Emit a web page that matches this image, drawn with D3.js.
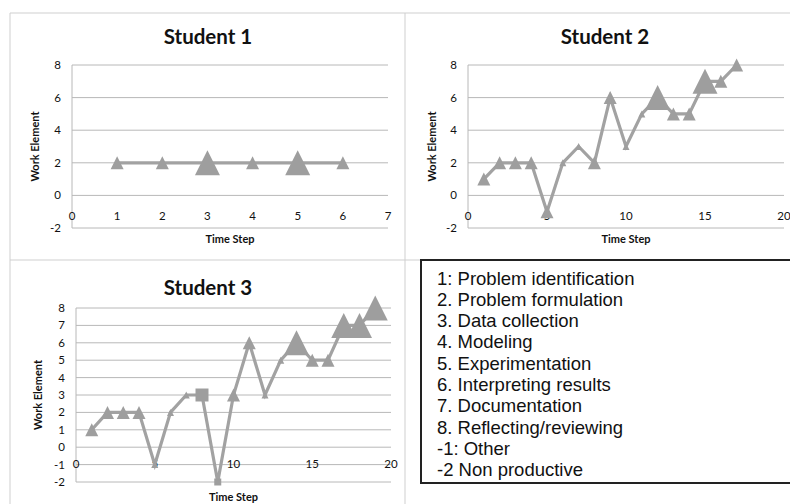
<!DOCTYPE html>
<html>
<head>
<meta charset="utf-8">
<script src="https://cdn.jsdelivr.net/npm/d3@7"></script>
<style>
    body { margin: 0; background: #fff; }
    svg { display: block; }
    .tick-label { font-family: Lato, "Open Sans", sans-serif; font-size: 11.5px; fill: #111; }
    .axis-title { font-family: Lato, "Open Sans", sans-serif; font-size: 11px; font-weight: bold; fill: #111; }
    .chart-title { font-family: Lato, "Open Sans", sans-serif; font-size: 20.5px; font-weight: bold; fill: #111; }
    .legend-text { font-family: "Liberation Sans", Arial, sans-serif; font-size: 18.5px; fill: #111; }
</style>
</head>
<body>
<div id="chart"></div>
<script>
// data: time step, work element, marker size (1 small, 2 normal, 3 big)
const s1Steps = [1, 2, 3, 4, 5, 6];
const s1Values = [2, 2, 2, 2, 2, 2];
const s1Sizes = [2, 2, 3, 2, 3, 2];
const s1Shapes = ["t", "t", "t", "t", "t", "t"];

const s2Steps = [1, 2, 3, 4, 5, 6, 7, 8, 9, 10, 11, 12, 13, 14, 15, 16, 17];
const s2Values = [1, 2, 2, 2, -1, 2, 3, 2, 6, 3, 5, 6, 5, 5, 7, 7, 8];
const s2Sizes = [2, 2, 2, 2, 2, 1, 1, 2, 2, 1, 1, 3, 2, 2, 3, 2, 2];
const s2Shapes = ["t", "t", "t", "t", "t", "t", "t", "t", "t", "t", "t", "t", "t", "t", "t", "t", "t"];

const s3Steps = [1, 2, 3, 4, 5, 6, 7, 8, 9, 10, 11, 12, 13, 14, 15, 16, 17, 18, 19];
const s3Values = [1, 2, 2, 2, -1, 2, 3, 3, -2, 3, 6, 3, 5, 6, 5, 5, 7, 7, 8];
const s3Sizes = [2, 2, 2, 2, 1, 1, 1, 2, 1, 2, 2, 1, 1, 3, 2, 2, 3, 3, 3];
const s3Shapes = ["t", "t", "t", "t", "t", "t", "t", "s", "s", "t", "t", "t", "t", "t", "t", "t", "t", "t", "t"];

const yTicksWide = [-2, 0, 2, 4, 6, 8];
const yTicksFine = [-2, -1, 0, 1, 2, 3, 4, 5, 6, 7, 8];
const xTicks1 = [0, 1, 2, 3, 4, 5, 6, 7];
const xTicks23 = [0, 5, 10, 15, 20];

const legendLabels = [
    "1: Problem identification",
    "2. Problem formulation",
    "3. Data collection",
    "4. Modeling",
    "5. Experimentation",
    "6. Interpreting results",
    "7. Documentation",
    "8. Reflecting/reviewing",
    "-1: Other",
    "-2 Non productive"
];

const width = 790, height = 504;
const grey = "#a2a2a2";
const frameColor = "#cfcfcf";

let svg = d3.select("#chart").append("svg")
    .attr("width", width)
    .attr("height", height);

// panel frames
let frames = [
    [10, 13, 790, 13],
    [10, 13, 10, 504],
    [10, 260, 421, 260],
    [405, 13, 405, 504]
];
svg.selectAll("line.frame").data(frames).enter().append("line")
    .attr("class", "frame")
    .attr("x1", d => d[0]).attr("y1", d => d[1])
    .attr("x2", d => d[2]).attr("y2", d => d[3])
    .attr("stroke", frameColor)
    .attr("stroke-width", 1);

// marker size in px
let sizeScale = d3.scaleOrdinal().domain([1, 2, 3]).range([7, 13, 25]);

// triangle with bbox centred on the point
const triangle = {
    draw(context, size) {
        let w = Math.sqrt(size);
        context.moveTo(0, -w / 2);
        context.lineTo(w / 2, w / 2);
        context.lineTo(-w / 2, w / 2);
        context.closePath();
    }
};

function drawPanel(cfg) {
    let x = d3.scaleLinear().domain(cfg.xDomain).range(cfg.xRange);
    let y = d3.scaleLinear().domain([-2, 8]).range(cfg.yRange);
    let g = svg.append("g");

    // gridlines
    g.selectAll("line.grid").data(cfg.yTicks).enter().append("line")
        .attr("x1", cfg.xRange[0]).attr("x2", cfg.xRange[1])
        .attr("y1", d => y(d)).attr("y2", d => y(d))
        .attr("stroke", "#b8b8b8")
        .attr("stroke-width", 1);

    g.append("line")
        .attr("x1", cfg.xRange[0]).attr("x2", cfg.xRange[0])
        .attr("y1", y(8)).attr("y2", y(-2))
        .attr("stroke", "#b8b8b8");

    // y tick labels
    g.selectAll("text.ytick").data(cfg.yTicks).enter().append("text")
        .attr("class", "tick-label")
        .attr("x", cfg.xRange[0] - 11)
        .attr("y", d => y(d) + 4)
        .attr("text-anchor", "end")
        .text(d => d);

    // x tick labels sit below the zero line
    g.selectAll("text.xtick").data(cfg.xTicks).enter().append("text")
        .attr("class", "tick-label")
        .attr("x", d => x(d))
        .attr("y", y(0) + cfg.xLabelOffset)
        .attr("text-anchor", "middle")
        .text(d => d);

    let points = cfg.steps.map((s, i) => ({
        step: s, value: cfg.values[i], size: cfg.sizes[i], shape: cfg.shapes[i]
    }));

    let line = d3.line()
        .x(d => x(d.step))
        .y(d => y(d.value));

    g.append("path")
        .datum(points)
        .attr("d", line)
        .attr("fill", "none")
        .attr("stroke", grey)
        .attr("stroke-width", 3.2)
        .attr("stroke-linejoin", "miter");

    g.selectAll("path.marker").data(points).enter().append("path")
        .attr("class", "marker")
        .attr("transform", d => "translate(" + x(d.step) + "," + y(d.value) + ")")
        .attr("d", d => {
            let w = sizeScale(d.size);
            let type = d.shape == "s" ? d3.symbolSquare : triangle;
            return d3.symbol().type(type).size(w * w)();
        })
        .attr("fill", "#9e9e9e");

    // titles
    g.append("text")
        .attr("class", "chart-title")
        .attr("x", cfg.titleX)
        .attr("y", cfg.titleY)
        .attr("text-anchor", "middle")
        .text(cfg.title);

    g.append("text")
        .attr("class", "axis-title")
        .attr("transform", "translate(" + cfg.yTitleX + "," + (y(8) + y(-2)) / 2 + ") rotate(-90)")
        .attr("text-anchor", "middle")
        .text("Work Element");

    g.append("text")
        .attr("class", "axis-title")
        .attr("x", (cfg.xRange[0] + cfg.xRange[1]) / 2)
        .attr("y", y(-2) + cfg.xTitleOffset)
        .attr("text-anchor", "middle")
        .text("Time Step");
}

drawPanel({
    title: "Student 1", titleX: 208, titleY: 44,
    steps: s1Steps, values: s1Values, sizes: s1Sizes, shapes: s1Shapes,
    xDomain: [0, 7], xRange: [72, 388], yRange: [228, 65],
    yTicks: yTicksWide, xTicks: xTicks1,
    xLabelOffset: 25, yTitleX: 39, xTitleOffset: 15
});

drawPanel({
    title: "Student 2", titleX: 605, titleY: 44,
    steps: s2Steps, values: s2Values, sizes: s2Sizes, shapes: s2Shapes,
    xDomain: [0, 20], xRange: [468, 784], yRange: [228, 65],
    yTicks: yTicksWide, xTicks: xTicks23,
    xLabelOffset: 25, yTitleX: 436, xTitleOffset: 15
});

drawPanel({
    title: "Student 3", titleX: 208, titleY: 295,
    steps: s3Steps, values: s3Values, sizes: s3Sizes, shapes: s3Shapes,
    xDomain: [0, 20], xRange: [76, 391], yRange: [482, 308],
    yTicks: yTicksFine, xTicks: xTicks23,
    xLabelOffset: 21, yTitleX: 42, xTitleOffset: 19
});

// legend box
let legend = svg.append("g");
legend.append("rect")
    .attr("x", 421).attr("y", 260)
    .attr("width", 380).attr("height", 223)
    .attr("fill", "#fff")
    .attr("stroke", "#222")
    .attr("stroke-width", 2);

legend.selectAll("text").data(legendLabels).enter().append("text")
    .attr("class", "legend-text")
    .attr("x", 437)
    .attr("y", (d, i) => 284.5 + i * 21.3)
    .text(d => d);
</script>
</body>
</html>
